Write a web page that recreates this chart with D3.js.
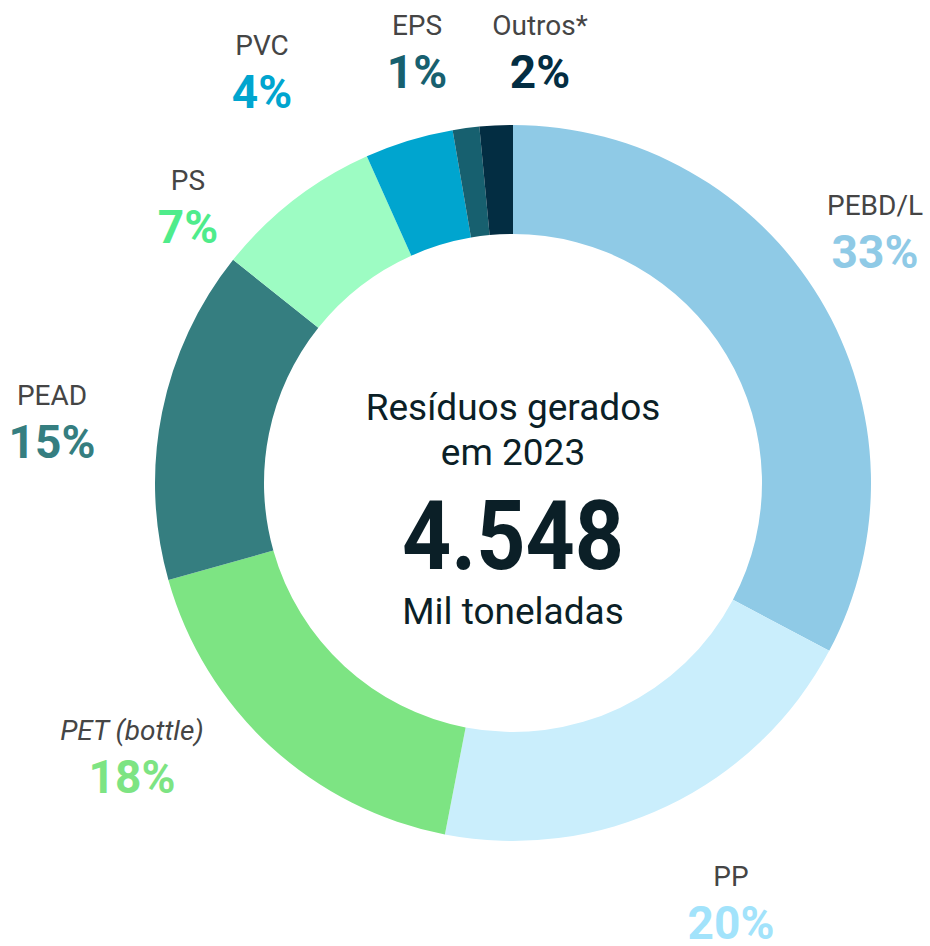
<!DOCTYPE html>
<html lang="pt">
<head>
<meta charset="utf-8">
<title>Resíduos gerados em 2023</title>
<script src="https://d3js.org/d3.v7.min.js"></script>
<style>
  body { margin: 0; background: #fff; }
  text { font-family: Roboto, "DejaVu Sans", sans-serif; }
</style>
</head>
<body>
<div id="chart"></div>
<script>
// data (clockwise from 12 o'clock)
var materials = ["PEBD/L", "PP", "PET (bottle)", "PEAD", "PS", "PVC", "EPS", "Outros*"];
var shares = [32.8, 20.3, 17.6, 15.1, 7.6, 4.0, 1.2, 1.5];
var shareLabels = ["33%", "20%", "18%", "15%", "7%", "4%", "1%", "2%"];
var sliceColors = ["#8fcae6", "#caeefc", "#7de483", "#357e80", "#9dfcc3", "#00a5cf", "#17606f", "#032d42"];
var pctColors = ["#8fcae6", "#a2e3fb", "#7de483", "#357e80", "#4fec8b", "#00a5cf", "#17606f", "#032d42"];

var centerLines = ["Resíduos gerados", "em 2023"];
var total = "4.548";
var unit = "Mil toneladas";

// layout
var width = 930, height = 946;
var cx = 513, cy = 483;
var outerR = 358, innerR = 249;
// label anchors (centre x, baseline of name)
var labelPos = [[875, 215], [731, 886], [132, 740], [52, 405], [188, 190], [262, 55], [417, 35], [540, 35]];

var svg = d3.select("#chart").append("svg")
    .attr("width", width)
    .attr("height", height);

var g = svg.append("g").attr("transform", "translate(" + cx + "," + cy + ")");

var pie = d3.pie().sort(null).value(function(d) { return d; });
var arc = d3.arc().innerRadius(innerR).outerRadius(outerR);

g.selectAll("path")
    .data(pie(shares))
    .enter()
    .append("path")
    .attr("d", arc)
    .attr("fill", function(d, i) { return sliceColors[i]; });

// labels round the ring
var labels = svg.append("g").selectAll("g")
    .data(materials)
    .enter()
    .append("g")
    .attr("transform", function(d, i) { return "translate(" + labelPos[i][0] + "," + labelPos[i][1] + ")"; });

labels.append("text")
    .attr("text-anchor", "middle")
    .attr("font-size", 28)
    .attr("fill", "#454545")
    .attr("font-style", function(d) { return d.indexOf("PET") === 0 ? "italic" : "normal"; })
    .text(function(d) { return d; });

labels.append("text")
    .attr("text-anchor", "middle")
    .attr("y", 53)
    .attr("font-size", 46)
    .attr("font-weight", 700)
    .attr("fill", function(d, i) { return pctColors[i]; })
    .text(function(d, i) { return shareLabels[i]; });

// centre text
var center = svg.append("g").attr("transform", "translate(" + cx + ",0)");

center.selectAll(".line")
    .data(centerLines)
    .enter()
    .append("text")
    .attr("class", "line")
    .attr("text-anchor", "middle")
    .attr("y", function(d, i) { return 420 + i * 45; })
    .attr("font-size", 37)
    .attr("fill", "#0b1f27")
    .text(function(d) { return d; });

center.append("text")
    .attr("text-anchor", "middle")
    .attr("y", 569)
    .attr("font-size", 96)
    .attr("font-weight", 700)
    .attr("fill", "#0b1f27")
    .attr("textLength", 222)
    .attr("lengthAdjust", "spacingAndGlyphs")
    .text(total);

center.append("text")
    .attr("text-anchor", "middle")
    .attr("y", 624)
    .attr("font-size", 37)
    .attr("fill", "#0b1f27")
    .text(unit);
</script>
</body>
</html>
